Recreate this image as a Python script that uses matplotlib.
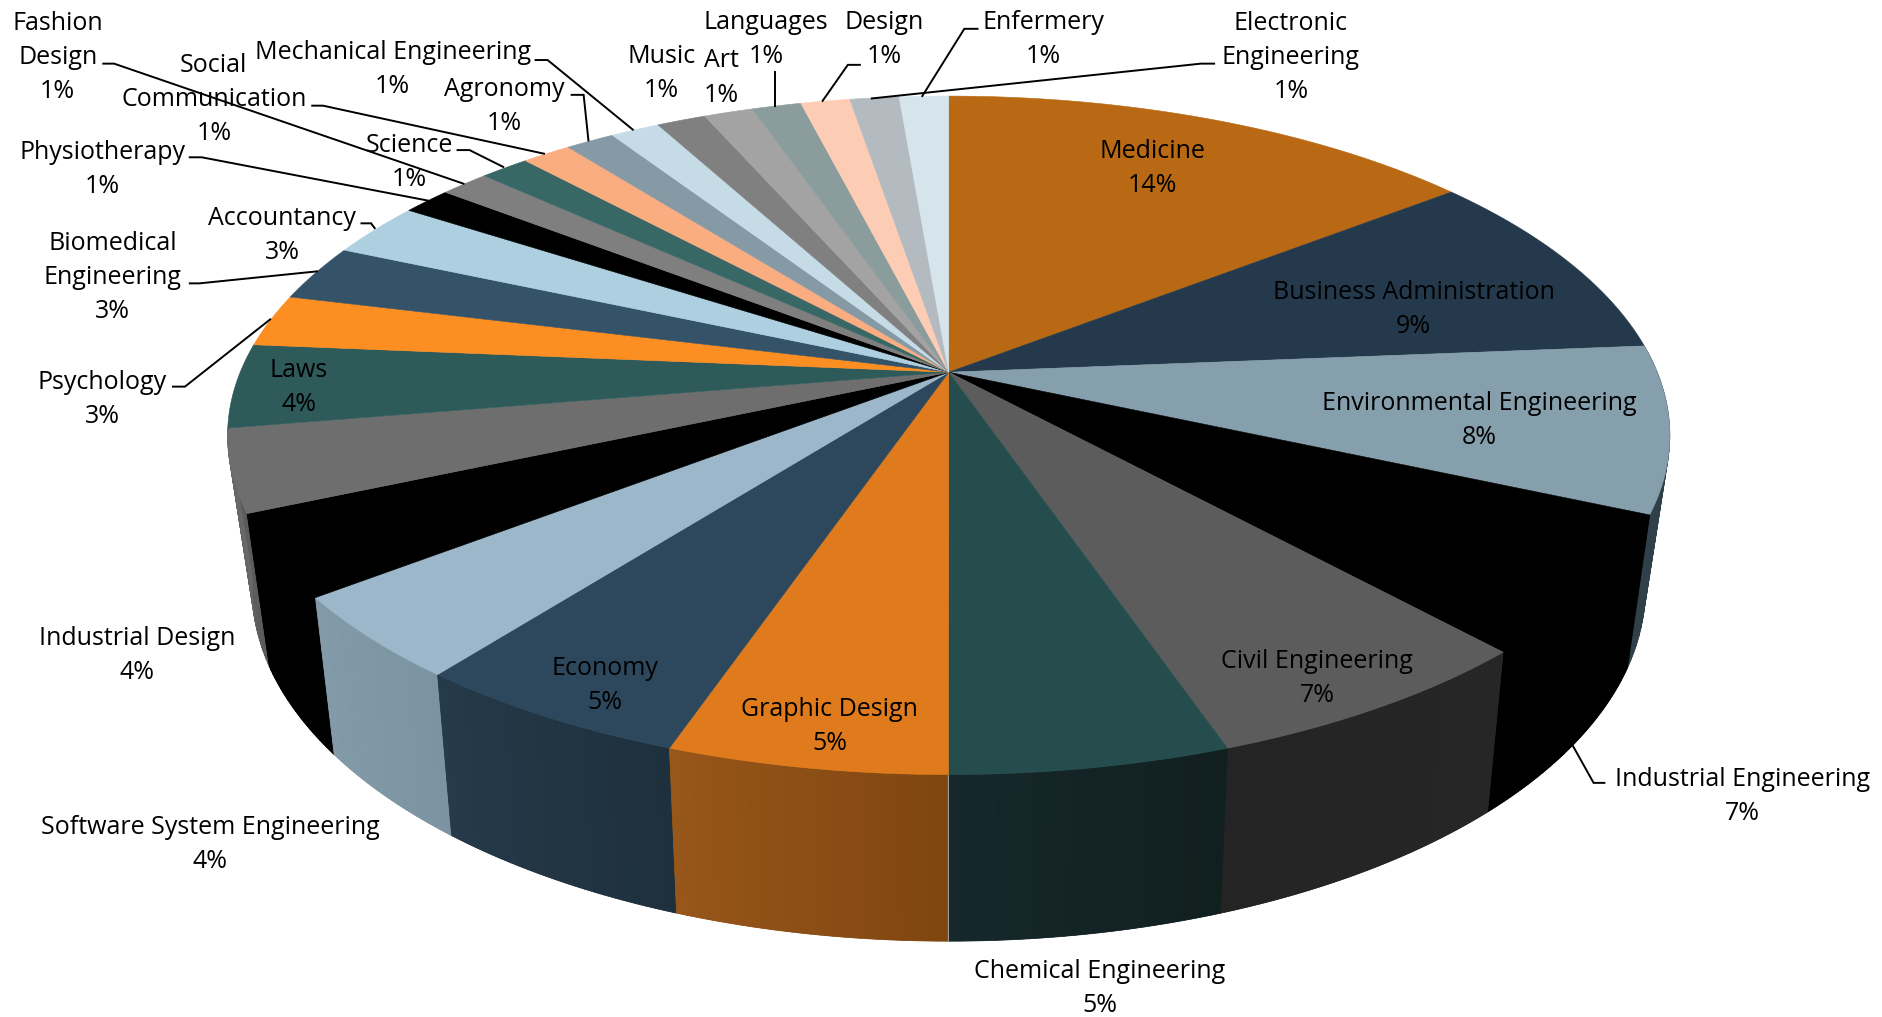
import matplotlib
matplotlib.use('Agg')
import matplotlib.pyplot as plt
import numpy as np
from matplotlib.colors import to_rgb
from matplotlib.patches import Polygon

plt.rcParams['font.family'] = ['Open Sans', 'DejaVu Sans']

# slices, clockwise from 12 o'clock
categories = ['Medicine', 'Business Administration', 'Environmental Engineering',
              'Industrial Engineering', 'Civil Engineering', 'Chemical Engineering',
              'Graphic Design', 'Economy', 'Software System Engineering',
              'Industrial Design', '', 'Laws', 'Psychology', 'Biomedical\nEngineering',
              'Accountancy', 'Physiotherapy', 'Fashion\nDesign', 'Science',
              'Social\nCommunication', 'Agronomy', 'Mechanical Engineering', 'Music',
              'Art', 'Languages', 'Design', 'Electronic\nEngineering', 'Enfermery']
values = [14.5, 9.2, 7.9, 6.6, 6.54, 5.26, 5.26, 5.29, 4.0, 3.9, 3.9, 4.0, 2.5, 2.7, 2.6,
          1.32, 1.32, 1.32, 1.32, 1.32, 1.32, 1.32, 1.32, 1.32, 1.32, 1.32, 1.32]
percent_labels = ['14%', '9%', '8%', '7%', '7%', '5%', '5%', '5%', '4%', '4%', '', '4%',
                  '3%', '3%', '3%', '1%', '1%', '1%', '1%', '1%', '1%', '1%', '1%', '1%',
                  '1%', '1%', '1%']

top_colors = ['#b96914', '#243a4c', '#869fac', '#000000', '#5c5c5c', '#254d4d', '#df7b1c',
              '#2d485c', '#9bb7c9', '#000000', '#6e6e6e', '#2e5a5a', '#fd8e22', '#345369',
              '#aecfe0', '#000000', '#7f7f7f', '#376866', '#fbad82', '#869aa6', '#c5dce7',
              '#808080', '#a3a3a3', '#8a9c9c', '#fdccb5', '#b4bbc0', '#d6e4ec']
# side wall shading, one pair per slice on the front half (start of slice -> end of slice)
wall_colors = {2: ('#2f4048', '#2f4048'), 3: ('#000000', '#000000'), 4: ('#262626', '#242424'),
               5: ('#111f1f', '#16282c'), 6: ('#7f4610', '#97561a'), 7: ('#1e303c', '#253a4a'),
               8: ('#7c94a2', '#839ba9'), 9: ('#000000', '#000000'), 10: ('#5a5a5a', '#6a6a6a')}

# label block centres, same order as categories
label_xy = [(960, 140), (1177, 258), (1232, 350), (1451, 663), (1097, 565), (916, 823),
            (691, 605), (504, 571), (175, 703), (114, 546), (0, 0), (249, 323), (85, 333),
            (94, 231), (235, 196), (85, 141), (48, 48), (341, 135), (178, 83), (420, 89),
            (327, 58), (551, 61), (601, 65), (638, 33), (736, 33), (1075, 48), (869, 33)]

leaders = [[(86, 53), (95, 53), (386, 153)],
           [(260, 88), (269, 88), (453, 128)],
           [(158, 131), (168, 131), (356, 167)],
           [(381, 125), (391, 125), (419, 139)],
           [(446, 50), (456, 50), (527, 108)],
           [(476, 79), (486, 79), (490, 117)],
           [(301, 186), (309, 186), (312, 190)],
           [(158, 236), (166, 236), (264, 226)],
           [(144, 322), (154, 322), (225, 266)],
           [(645, 60), (645, 88)],
           [(716, 54), (706, 54), (685, 84)],
           [(814, 24), (803, 24), (768, 80)],
           [(1011, 53), (1000, 53), (726, 82)],
           [(1336, 652), (1327, 652), (1308, 618)]]

CX = 790


def project(theta, k, a, b, c):
    # perspective view of the unit circle, theta clockwise from the top
    u = np.sin(theta)
    v = -np.cos(theta)
    w = 1 + c * v
    return np.column_stack((CX + k * u / w, (a * v + b) / w))


def top_ring(theta):
    return project(theta, 590, 215.1, 310, -0.186)


def bottom_ring(theta):
    return project(theta, 569, 198, 433, -0.195)


fig = plt.figure(figsize=(18.83, 10.17), dpi=100)
ax = fig.add_axes([0, 0, 1, 1])
ax.set_xlim(0, 1568)
ax.set_ylim(847, 0)
ax.axis('off')

fractions = np.array(values) / np.sum(values)
edges = np.concatenate(([0], np.cumsum(fractions))) * 2 * np.pi

# walls, outermost first so the front ones lie on top
order = sorted(wall_colors, key=lambda i: abs((edges[i] + edges[i + 1]) / 2 - np.pi), reverse=True)
for i in order:
    t0, t1 = edges[i], edges[i + 1]
    c0, c1 = np.array(to_rgb(wall_colors[i][0])), np.array(to_rgb(wall_colors[i][1]))
    th = np.linspace(t0, t1, 60)
    ax.add_patch(Polygon(np.vstack((top_ring(th), bottom_ring(th)[::-1])), closed=True,
                         fc=(c0 + c1) / 2, ec='none', zorder=2))
    steps = np.linspace(t0, t1, 25)
    for j in range(24):
        th = np.linspace(steps[j], steps[j + 1], 3)
        col = c0 + (c1 - c0) * (j + 0.5) / 24
        pts = np.vstack((top_ring(th), bottom_ring(th)[::-1]))
        ax.add_patch(Polygon(pts, closed=True, fc=col, ec=col, lw=0.5, zorder=2))

# seam between Graphic Design and Chemical Engineering walls
seam = np.array([edges[6]])
ax.plot([top_ring(seam)[0, 0], bottom_ring(seam)[0, 0]],
        [top_ring(seam)[0, 1], bottom_ring(seam)[0, 1]],
        color='#9a9a9a', lw=0.8, zorder=3)

# top face
for i, col in enumerate(top_colors):
    th = np.linspace(edges[i], edges[i + 1], 60)
    pts = np.vstack(([[CX, 310]], top_ring(th)))
    ax.add_patch(Polygon(pts, closed=True, fc=col, ec=col, lw=0.4, zorder=4))

for path in leaders:
    xs, ys = zip(*path)
    ax.plot(xs, ys, color='black', lw=1.4, solid_joinstyle='miter', zorder=5)

for name, pct, (x, y) in zip(categories, percent_labels, label_xy):
    if name:
        ax.text(x, y, name + '\n' + pct, ha='center', va='center', fontsize=18,
                color='black', linespacing=1.48, zorder=6)

fig.savefig('out.png', dpi=100)
